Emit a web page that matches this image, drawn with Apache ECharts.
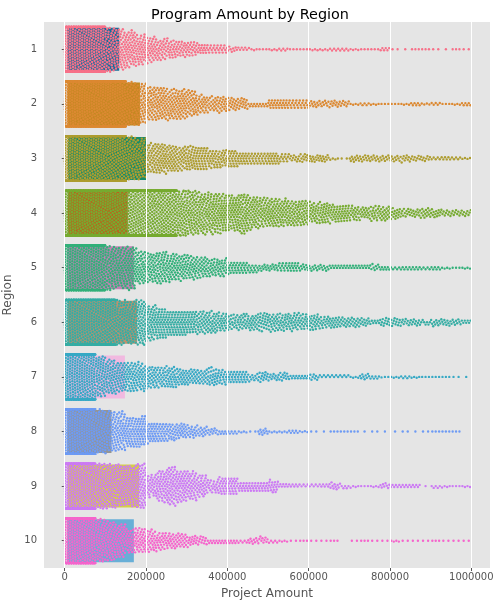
<!DOCTYPE html>
<html lang="en">
<head>
    <meta charset="UTF-8">
    <title>Program Amount by Region</title>
    <script src="https://cdn.jsdelivr.net/npm/echarts@6.0.0/dist/echarts.min.js"></script>
</head>
<body style="margin:0">
<div id="container" style="width:500px;height:609px"></div>

<script type="text/javascript">
    var regions = ['1', '2', '3', '4', '5', '6', '7', '8', '9', '10'];
    var xTicks = [0, 200000, 400000, 600000, 800000, 1000000];
    var binWidth = 25000;

    // number of projects per 25000 bin (0 .. 1000000)
    var counts1 = [150, 150, 150, 150, 60, 55, 50, 42, 35, 28, 25, 22, 20, 15, 12, 12, 8, 6, 4, 3, 4, 5, 3, 3, 4, 4, 5, 5, 4, 3, 3, 6, 2, 1, 3, 3, 2, 1, 3, 2];
    var counts2 = [150, 150, 150, 150, 150, 150, 60, 55, 45, 45, 42, 42, 35, 25, 20, 22, 18, 16, 7, 7, 14, 14, 12, 12, 10, 9, 10, 9, 4, 5, 4, 3, 3, 4, 6, 4, 5, 3, 4, 6];
    var counts3 = [150, 150, 150, 150, 150, 150, 60, 55, 40, 42, 38, 32, 34, 32, 25, 24, 24, 18, 16, 16, 18, 12, 10, 12, 11, 11, 4, 2, 10, 10, 9, 9, 9, 10, 8, 8, 5, 6, 5, 4];
    var counts4 = [150, 150, 150, 150, 150, 150, 150, 150, 150, 150, 150, 65, 60, 55, 55, 55, 50, 55, 45, 40, 40, 38, 35, 35, 28, 30, 25, 25, 20, 17, 20, 20, 16, 12, 12, 14, 12, 9, 9, 9];
    var counts5 = [150, 150, 150, 150, 60, 55, 60, 45, 40, 42, 38, 35, 32, 28, 24, 24, 17, 16, 12, 10, 10, 12, 14, 10, 9, 9, 7, 7, 7, 7, 9, 7, 5, 6, 6, 5, 6, 4, 3, 4];
    var counts6 = [150, 150, 150, 150, 150, 62, 60, 62, 48, 44, 36, 36, 32, 30, 30, 26, 20, 22, 22, 24, 24, 24, 24, 22, 22, 17, 17, 14, 14, 12, 7, 12, 12, 10, 10, 7, 10, 10, 9, 7];
    var counts7 = [150, 150, 150, 58, 48, 42, 40, 38, 30, 28, 30, 24, 22, 20, 24, 20, 17, 17, 10, 14, 10, 12, 7, 7, 9, 5, 5, 5, 4, 9, 6, 3, 4, 5, 4, 3, 3, 3, 2, 1];
    var counts8 = [150, 150, 150, 62, 55, 52, 42, 44, 30, 27, 24, 22, 17, 14, 10, 7, 6, 4, 2, 10, 4, 4, 6, 4, 2, 1, 3, 3, 3, 1, 2, 1, 1, 2, 1, 2, 3, 3, 3, 0];
    var counts9 = [150, 150, 150, 65, 62, 60, 58, 62, 30, 42, 52, 44, 38, 30, 17, 24, 24, 14, 14, 14, 18, 7, 6, 5, 5, 6, 10, 6, 4, 3, 4, 8, 6, 6, 6, 1, 5, 4, 3, 4];
    var counts10 = [150, 150, 150, 60, 54, 46, 34, 34, 30, 24, 22, 20, 15, 12, 7, 7, 7, 5, 9, 10, 5, 4, 2, 3, 2, 2, 3, 0, 2, 3, 2, 2, 4, 2, 2, 2, 3, 2, 2, 2];
    var allCounts = [counts1, counts2, counts3, counts4, counts5, counts6, counts7, counts8, counts9, counts10];

    // box quartiles per region
    var q1 = [6000, 7000, 8000, 8000, 6000, 7000, 5000, 6000, 7000, 6000];
    var medians = [48000, 70000, 80000, 75000, 60000, 65000, 45000, 40000, 65000, 55000];
    var q3 = [134000, 185000, 202000, 155000, 170000, 178000, 148000, 115000, 183000, 170000];

    var dotColors = ['#f77189', '#dc8932', '#ae9d31', '#77ab31', '#33b07a', '#36ada4', '#38a9c5', '#6e9bf4', '#cc7af4', '#f565cc'];
    var boxColors = ['#176d9c', '#c38820', '#158b6a', '#ba611b', '#c182b5', '#bd926e', '#f1b9e0', '#949494', '#d5cd4a', '#68afd7'];

    var dom = document.getElementById('container');
    var myChart = echarts.init(dom, null, {renderer: 'canvas'});

    var boxData = [];
    for (var i = 0; i < regions.length; i++) {
        boxData.push({
            value: [q1[i], q1[i], medians[i], q3[i], q3[i]],
            itemStyle: {color: boxColors[i], borderColor: boxColors[i], borderWidth: 0}
        });
    }

    // one custom item per region; the dots are laid out as a beeswarm
    var swarmData = regions.map(function (name, idx) { return [0, idx]; });

    function renderSwarm(params, api) {
        var cat = api.value(1);
        var counts = allCounts[cat];
        var centre = api.coord([0, cat])[1];
        var limit = api.size([0, 1])[1] * 0.41;
        var d = 2.7, d2 = d * d;
        var color = dotColors[cat];
        var placed = [];
        var start = 0;
        var children = [];
        var flip = 1;
        for (var k = 0; k < counts.length; k++) {
            var n = counts[k];
            for (var p = 0; p < n; p++) {
                var v = k * binWidth + (p + 0.5) * binWidth / n;
                var px = api.coord([v, cat])[0];
                while (start < placed.length && placed[start].x < px - d) start++;
                var cands = [0];
                for (var q = start; q < placed.length; q++) {
                    var dx = px - placed[q].x;
                    var dy = Math.sqrt(Math.max(0, d2 - dx * dx));
                    cands.push(placed[q].y + dy, placed[q].y - dy);
                }
                cands.sort(function (m, o) { return Math.abs(m) - Math.abs(o); });
                var y = null;
                for (var c = 0; c < cands.length; c++) {
                    var cy = cands[c];
                    if (Math.abs(cy) > limit) break;
                    var ok = true;
                    for (var s = start; s < placed.length; s++) {
                        var ex = px - placed[s].x, ey = cy - placed[s].y;
                        if (ex * ex + ey * ey < d2 - 1e-6) { ok = false; break; }
                    }
                    if (ok) { y = cy; break; }
                }
                if (y === null) {
                    // no room left in the band: the dot sits on the edge
                    flip = -flip;
                    y = flip * limit;
                } else {
                    placed.push({x: px, y: y});
                }
                children.push({
                    type: 'circle',
                    shape: {cx: px, cy: centre + y, r: 1.2},
                    style: {fill: color}
                });
            }
        }
        return {type: 'group', children: children};
    }

    var option = {
        animation: false,
        textStyle: {fontFamily: 'DejaVu Sans'},
        title: {
            text: 'Program Amount by Region',
            left: 'center',
            top: 3,
            textStyle: {fontSize: 14.4, fontWeight: 'normal', color: '#000', fontFamily: 'DejaVu Sans'}
        },
        grid: {
            left: 44, right: 10, top: 22, bottom: 41,
            outerBoundsMode: 'none',
            containLabel: false,
            show: true, backgroundColor: '#e5e5e5', borderWidth: 0
        },
        xAxis: {
            type: 'value',
            min: -51000,
            max: 1046000,
            name: 'Project Amount',
            nameLocation: 'middle',
            nameGap: 20,
            nameTextStyle: {fontSize: 12, color: '#555'},
            axisLine: {show: false},
            axisTick: {show: true, length: 3, lineStyle: {color: '#555'}, customValues: xTicks},
            axisLabel: {
                fontSize: 10, color: '#555', margin: 4, customValues: xTicks,
                formatter: function (v) { return String(v); }
            },
            splitLine: {show: false}
        },
        yAxis: {
            type: 'category',
            data: regions,
            inverse: true,
            name: 'Region',
            nameLocation: 'middle',
            nameGap: 26,
            nameRotate: 90,
            nameTextStyle: {fontSize: 12, color: '#555'},
            axisLine: {show: false},
            axisTick: {show: true, alignWithLabel: true, length: 3, lineStyle: {color: '#555'}},
            axisLabel: {fontSize: 10, color: '#555', margin: 7},
            splitLine: {show: false}
        },
        series: [
            {
                type: 'scatter',
                data: [],
                z: 1,
                silent: true,
                markLine: {
                    silent: true,
                    symbol: 'none',
                    label: {show: false},
                    lineStyle: {color: '#ffffff', width: 1, type: 'solid'},
                    data: xTicks.map(function (v) { return {xAxis: v}; })
                }
            },
            {
                type: 'boxplot',
                z: 2,
                boxWidth: [43, 43],
                data: boxData
            },
            {
                type: 'custom',
                z: 3,
                renderItem: renderSwarm,
                encode: {x: 0, y: 1},
                data: swarmData
            }
        ]
    };

    myChart.setOption(option);
    window.addEventListener('resize', myChart.resize);
</script>
</body>
</html>
